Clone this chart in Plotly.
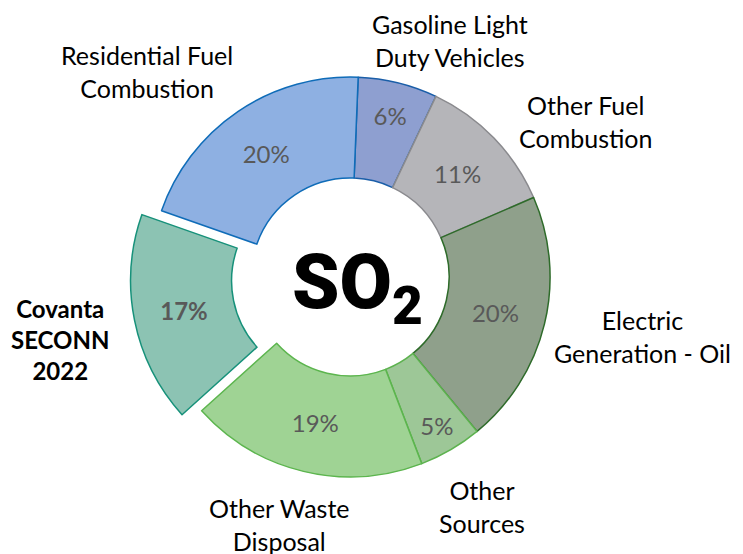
import plotly.graph_objects as go

categories = ["Gasoline Light Duty Vehicles", "Other Fuel Combustion", "Electric Generation - Oil",
              "Other Sources", "Other Waste Disposal", "Covanta SECONN 2022", "Residential Fuel Combustion"]
shares = [6.4, 11.4, 20.5, 5.1, 19.1, 17.0, 20.2]
pct_labels = ["6%", "11%", "20%", "5%", "19%", "17%", "20%"]
outer_labels = ["Gasoline Light<br>Duty Vehicles", "Other Fuel<br>Combustion", "Electric<br>Generation - Oil",
                "Other<br>Sources", "Other Waste<br>Disposal", "<b>Covanta<br>SECONN<br>2022</b>",
                "Residential Fuel<br>Combustion"]

fills = ["#8e9fd0", "#b5b5b9", "#8fa08b", "#9dc797", "#9fd394", "#8cc3b3", "#8eb0e2"]
borders = ["#1a5ea8", "#8a8a8e", "#2e6b2a", "#5db24f", "#5cb54e", "#17917a", "#0f6cb8"]
pulls = [0, 0, 0, 0, 0, 0.1, 0]
templates = ["%{text}"] * 5 + ["<b>%{text}</b>", "%{text}"]

W, H, OFF = 743, 554, 8  # page body margin offset


def px2paper(px, py):
    return (px - OFF) / W, 1 - (py - OFF) / H


fig = go.Figure(go.Pie(
    labels=categories, values=shares, text=pct_labels,
    texttemplate=templates, textinfo="text", textposition="inside",
    insidetextorientation="horizontal",
    sort=False, direction="clockwise", rotation=2.3, hole=0.495, pull=pulls,
    marker=dict(colors=fills, line=dict(color=borders, width=1.5)),
    textfont=dict(family="Lato, sans-serif", size=24, color="#595959"),
    domain=dict(x=[0.1645, 0.7565], y=[0.1175, 0.9115]),
    showlegend=False, hoverinfo="label+percent",
))

label_pos = [(450, 41), (585, 121), (642, 336), (482, 506), (279, 524), (60, 339), (147, 71)]
label_sizes = [25, 25, 25, 25, 25, 24, 25]
for txt, (px, py), sz in zip(outer_labels, label_pos, label_sizes):
    ax, ay = px2paper(px, py)
    fig.add_annotation(x=ax, y=ay, xref="paper", yref="paper", text=txt,
                       showarrow=False, xanchor="center", yanchor="middle",
                       font=dict(family="Lato, sans-serif", size=sz, color="#000000"))

sx, sy = px2paper(357, 287)
fig.add_annotation(x=sx, y=sy, xref="paper", yref="paper",
                   text="SO<sub>2</sub>", showarrow=False, xanchor="center", yanchor="middle",
                   font=dict(family="Roboto, sans-serif", size=76, weight=900, color="#000000"))

fig.update_layout(width=W, height=H, margin=dict(l=0, r=0, t=0, b=0),
                  paper_bgcolor="white", plot_bgcolor="white")
fig.write_html("out.html")
